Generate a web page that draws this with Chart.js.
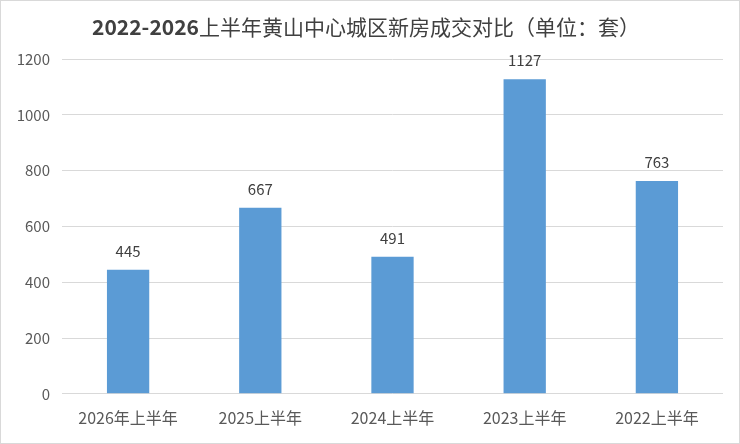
<!DOCTYPE html>
<html>
<head>
<meta charset="utf-8">
<script src="https://cdn.jsdelivr.net/npm/chart.js@4"></script>
<style>
  html, body { margin: 0; padding: 0; background: #fff; }
  #wrap { width: 738px; height: 442px; border: 1px solid #d9d9d9; position: relative; }
</style>
</head>
<body>
<div id="wrap"><canvas id="c"></canvas></div>
<script>
// ==============================
// DATA
// ==============================
const categories = ['2026年上半年', '2025上半年', '2024上半年', '2023上半年', '2022上半年'];
const deals = [445, 667, 491, 1127, 763];
const yTicks = [0, 200, 400, 600, 800, 1000, 1200];
const titleYears = '2022-2026';
const titleRest = '上半年黄山中心城区新房成交对比（单位：套）';

const FONT = '"Noto Sans CJK SC", "Open Sans", sans-serif';

// title: bold years + regular text, centred
const titlePlugin = {
  id: 'mixedTitle',
  afterDraw(chart) {
    const ctx = chart.ctx;
    ctx.save();
    ctx.fillStyle = '#404040';
    ctx.textBaseline = 'middle';
    ctx.textAlign = 'left';
    const boldFont = 'bold 21px ' + FONT;
    const normFont = '21px ' + FONT;
    ctx.font = boldFont;
    const w1 = ctx.measureText(titleYears).width;
    ctx.font = normFont;
    const w2 = ctx.measureText(titleRest).width;
    let x = 365 - (w1 + w2) / 2;
    const y = 26;
    ctx.font = boldFont;
    ctx.fillText(titleYears, x, y);
    ctx.font = normFont;
    ctx.fillText(titleRest, x + w1, y);
    ctx.restore();
  }
};

// value labels on top of each bar
const barLabels = {
  id: 'barLabels',
  afterDatasetsDraw(chart) {
    const ctx = chart.ctx;
    const meta = chart.getDatasetMeta(0);
    ctx.save();
    ctx.fillStyle = '#404040';
    ctx.font = '15px ' + FONT;
    ctx.textAlign = 'center';
    ctx.textBaseline = 'alphabetic';
    meta.data.forEach((bar, i) => {
      ctx.fillText(deals[i], bar.x, bar.y - 13);
    });
    ctx.restore();
  }
};

new Chart(document.getElementById('c'), {
  type: 'bar',
  data: {
    labels: categories,
    datasets: [{
      data: deals,
      backgroundColor: '#5b9bd5',
      categoryPercentage: 1,
      barPercentage: 0.32
    }]
  },
  options: {
    responsive: true,
    maintainAspectRatio: false,
    animation: false,
    layout: { padding: { left: 0, right: 16, top: 58, bottom: 8 } },
    plugins: {
      legend: { display: false },
      tooltip: { enabled: false },
      title: { display: false }
    },
    scales: {
      y: {
        min: 0,
        max: 1200,
        afterBuildTicks: axis => { axis.ticks = yTicks.map(v => ({ value: v })); },
        afterFit: axis => { axis.width = 61; },
        grid: { color: '#d9d9d9', drawTicks: false },
        border: { display: false },
        ticks: {
          color: '#595959', padding: 12,
          font: { family: FONT, size: 15 },
          callback: v => String(v)
        }
      },
      x: {
        grid: { display: false },
        border: { display: false },
        ticks: { color: '#595959', padding: 7, font: { family: FONT, size: 16 } }
      }
    }
  },
  plugins: [barLabels, titlePlugin]
});
</script>
</body>
</html>
